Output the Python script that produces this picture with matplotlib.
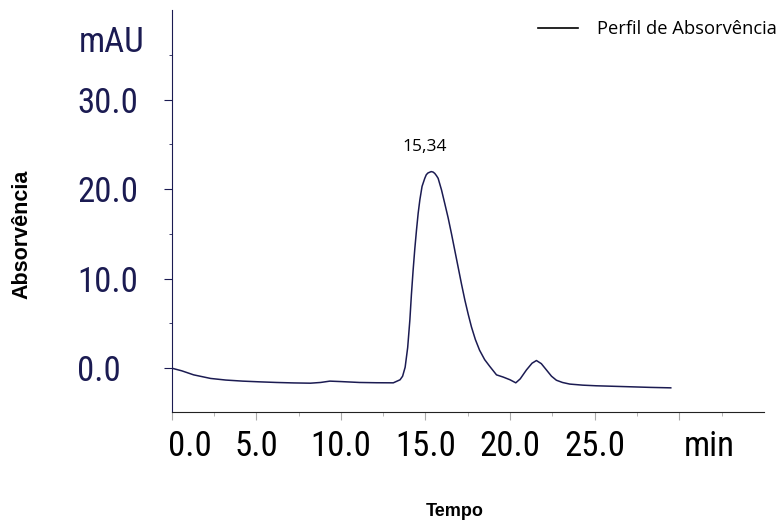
import matplotlib
matplotlib.use("Agg")
import matplotlib.pyplot as plt
from matplotlib.lines import Line2D
from matplotlib import font_manager

# retention time [min] and absorbance [mAU]
tempo = [0.0, 0.6, 1.3, 2.3, 3.2, 4.2, 5.2, 6.2, 7.2, 8.2, 8.8, 9.35, 10.0,
         11.1, 12.1, 13.1, 13.5, 13.65, 13.8, 13.95, 14.08, 14.17, 14.27,
         14.37, 14.47, 14.57, 14.67, 14.8, 14.96, 15.05, 15.15, 15.34, 15.45,
         15.55, 15.65, 15.75, 15.95, 16.14, 16.34, 16.54, 16.74, 16.93, 17.13,
         17.33, 17.53, 17.72, 17.95, 18.2, 18.5, 18.8, 19.2, 19.6, 20.0,
         20.34, 20.6, 20.97, 21.3, 21.56, 21.85, 22.15, 22.45, 22.74, 23.1,
         23.53, 24.3, 25.1, 26.0, 27.07, 28.3, 29.5]
absorv = [0.0, -0.3, -0.75, -1.15, -1.33, -1.45, -1.53, -1.6, -1.65, -1.68,
          -1.6, -1.45, -1.5, -1.6, -1.63, -1.64, -1.3, -0.9, 0.1, 2.3, 5.4,
          8.2, 10.9, 13.3, 15.4, 17.3, 18.8, 20.3, 21.2, 21.6, 21.8, 21.95,
          21.9, 21.75, 21.5, 21.2, 19.9, 18.4, 16.8, 15.0, 13.1, 11.3, 9.4,
          7.6, 6.0, 4.6, 3.2, 2.0, 0.95, 0.2, -0.75, -1.0, -1.3, -1.64, -1.2,
          -0.2, 0.55, 0.85, 0.5, -0.2, -0.9, -1.35, -1.6, -1.78, -1.9, -1.97,
          -2.02, -2.08, -2.15, -2.2]

pico_t, pico_label = 15.34, "15,34"

yticks = [0, 10, 20, 30]
yminor = [5, 15, 25, 35]
xticks = [0, 5, 10, 15, 20, 25, 30]
xminor = [2.5, 7.5, 12.5, 17.5, 22.5, 27.5, 32.5]
xlabels = ["", "5.0", "10.0", "15.0", "20.0", "25.0", ""]

navy = "#1b1b52"

# pick a narrow face if one is around
names = {f.name for f in font_manager.fontManager.ttflist}
narrow_fam = "Liberation Sans"
for cand in ("Liberation Sans Narrow", "DejaVu Sans Condensed",
             "Roboto Condensed", "Open Sans Condensed"):
    if cand in names:
        narrow_fam = cand
        break
fsize = 25 if narrow_fam != "Liberation Sans" else 21

#------------------------------------------------------------------------------

fig = plt.figure(figsize=(7.81, 5.25), dpi=100)
ax = fig.add_axes([0.2198, 0.2152, 0.978 - 0.2198, 0.981 - 0.2152])

ax.plot(tempo, absorv, color=navy, linewidth=1.1)

ax.set_xlim(0, 35)
ax.set_ylim(-4.9, 40)

for s in ("top", "right"):
    ax.spines[s].set_visible(False)
ax.spines["left"].set_color(navy)
ax.spines["bottom"].set_color("#222222")

# y axis: left aligned labels far from the spine
ax.set_yticks(yticks)
ax.set_yticks(yminor, minor=True)
ax.set_yticklabels(["%.1f" % v for v in yticks], family=narrow_fam,
                   fontsize=fsize, color=navy, ha="left")
ax.tick_params(axis="y", which="major", length=6, color=navy, pad=62)
ax.tick_params(axis="y", which="minor", length=2.5, color=navy)

# x axis
ax.set_xticks(xticks)
ax.set_xticks(xminor, minor=True)
ax.set_xticklabels(xlabels, family=narrow_fam, fontsize=fsize, color="black")
ax.tick_params(axis="x", which="major", length=6, color="#aaaaaa", pad=7)
ax.tick_params(axis="x", which="minor", length=3, color="#aaaaaa")

xt = ax.get_xaxis_transform()
ax.text(1.08, -0.086, "0.0", transform=xt, family=narrow_fam, fontsize=fsize,
        ha="center", va="center")
ax.text(31.8, -0.086, "min", transform=xt, family=narrow_fam, fontsize=fsize,
        ha="center", va="center")
fig.text(79 / 781, 1 - 43 / 525, "mAU", family=narrow_fam, fontsize=fsize,
         color=navy, ha="left", va="center")

# axis titles
fig.text(22 / 781, 1 - 234 / 525, "Absorvência", rotation=90, fontsize=15.5,
         fontweight="bold", family="Liberation Sans", ha="center", va="center")
fig.text(455 / 781, 1 - 511 / 525, "Tempo", fontsize=13, fontweight="bold",
         family="Liberation Sans", ha="center", va="center")

# peak annotation
ax.annotate(pico_label, xy=(pico_t, max(absorv)), xytext=(-5, 12),
            textcoords="offset points", ha="center", va="bottom",
            family="Open Sans", fontsize=12.5)

handle = Line2D([], [], color="black", linewidth=1.2)
ax.legend([handle], ["Perfil de Absorvência"], loc="center left",
          bbox_to_anchor=(538 / 781, 1 - 29 / 525),
          bbox_transform=fig.transFigure, frameon=False, borderpad=0,
          borderaxespad=0, handlelength=2.2, handletextpad=1.0,
          prop={"family": "Open Sans", "size": 13.2})

fig.savefig("out.png", dpi=100)
